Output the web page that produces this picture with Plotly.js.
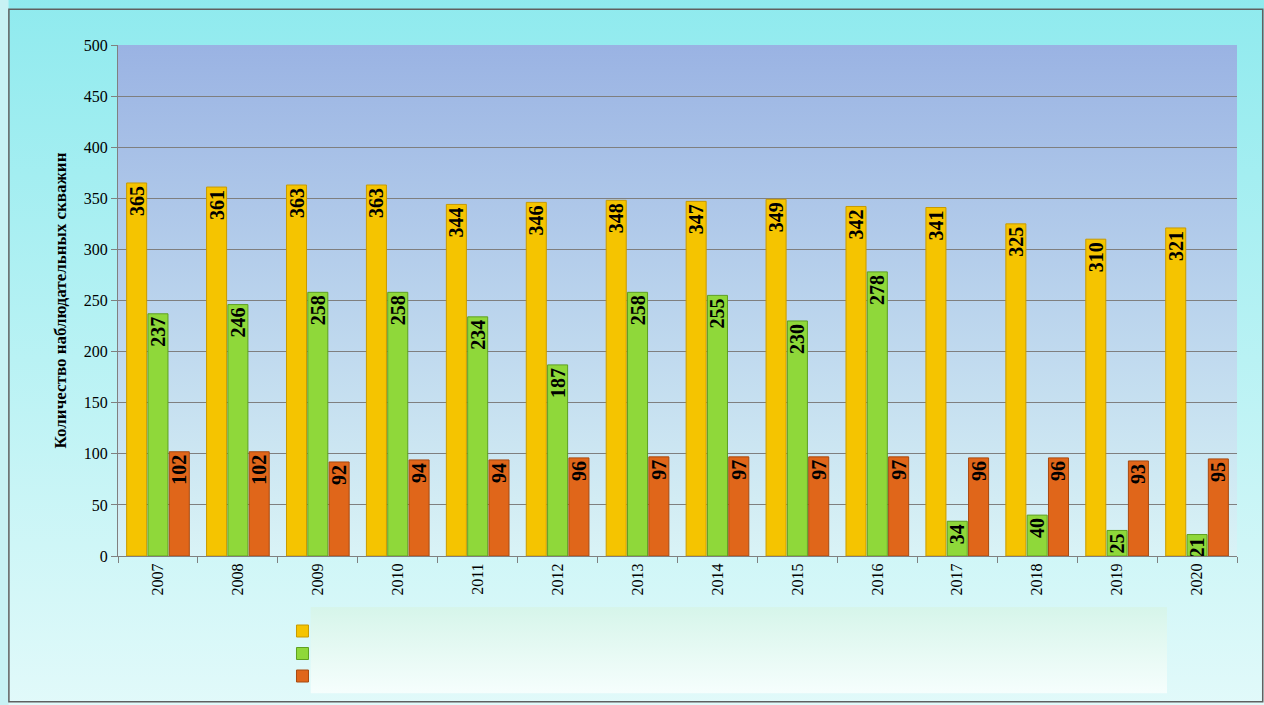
<!DOCTYPE html>
<html><head><meta charset="utf-8">
<script src="https://cdn.plot.ly/plotly-3.0.1.min.js"></script>
<style>body{margin:0}#chart{width:1264px;height:705px}</style>
</head><body><div id="chart"></div>
<script>
// данные по годам
var years = ['2007','2008','2009','2010','2011','2012','2013','2014','2015','2016','2017','2018','2019','2020'];
var serie1 = [365,361,363,363,344,346,348,347,349,342,341,325,310,321];
var serie2 = [237,246,258,258,234,187,258,255,230,278,34,40,25,21];
var serie3 = [102,102,92,94,94,96,97,97,97,97,96,96,93,95];
// подписи легенды скрыты в оригинале
var noms = [' ', ' ', ' '];
var couleurs = ['#f5c400', '#8fd83a', '#e0661a'];
var bords = ['#c89a00', '#5fa020', '#a84a10'];

function svgGrad(c1, c2){
	var s = "<svg xmlns='http://www.w3.org/2000/svg' width='10' height='10' preserveAspectRatio='none'>" +
		"<defs><linearGradient id='g' x1='0' y1='0' x2='0' y2='1'><stop offset='0' stop-color='" + c1 + "'/>" +
		"<stop offset='1' stop-color='" + c2 + "'/></linearGradient></defs><rect width='10' height='10' fill='url(#g)'/></svg>";
	return 'data:image/svg+xml;base64,' + btoa(s);
}

var series = [serie1, serie2, serie3];
var traces = [];
for (var i = 0; i < 3; i++) {
	traces.push({
		x: years, y: series[i], type: 'bar', name: noms[i],
		marker: {color: couleurs[i], line: {color: bords[i], width: 1}},
		text: series[i].map(String), textposition: 'inside', textangle: -90,
		insidetextanchor: 'end', constraintext: 'none',
		textfont: {family: 'Liberation Serif', size: 20, color: '#000', weight: 'bold'},
		cliponaxis: false
	});
}

var layout = {
	width: 1264, height: 705,
	margin: {l: 118, r: 27, t: 45, b: 147},
	barmode: 'group', bargap: 0.2, bargroupgap: 0.06,
	paper_bgcolor: '#c8f2f4', plot_bgcolor: 'rgba(0,0,0,0)',
	font: {family: 'Liberation Serif', size: 16, color: '#000'},
	xaxis: {type: 'category', tickangle: -90, showline: true, linecolor: '#808080', ticks: 'outside', ticklen: 6, tickcolor: '#808080', showgrid: false, tickson: 'boundaries'},
	yaxis: {range: [0, 500], dtick: 50, gridcolor: '#7f7f7f', showline: true, linecolor: '#808080', ticks: 'outside', ticklen: 6, tickcolor: '#808080',
		title: {text: 'Количество наблюдательных скважин', font: {family: 'Liberation Serif', size: 17, weight: 'bold'}, standoff: 12}},
	legend: {x: 0.147, xanchor: 'left', y: -0.115, yanchor: 'top', orientation: 'v', bgcolor: 'rgba(0,0,0,0)', font: {size: 15}, itemwidth: 30},
	images: [
		{source: svgGrad('#8eeaee', '#e4fafa'), xref: 'paper', yref: 'paper', x: -0.098, y: 1.11, sizex: 1.13, sizey: 1.45, xanchor: 'left', yanchor: 'top', sizing: 'stretch', layer: 'below'},
		{source: svgGrad('#9ab3e3', '#d9f3f6'), xref: 'paper', yref: 'paper', x: 0, y: 1, sizex: 1, sizey: 1, xanchor: 'left', yanchor: 'top', sizing: 'stretch', layer: 'below'},
		{source: svgGrad('#d6f5ea', '#f6fefd'), xref: 'paper', yref: 'paper', x: 0.172, y: -0.1, sizex: 0.7655, sizey: 0.169, xanchor: 'left', yanchor: 'top', sizing: 'stretch', layer: 'above'}
	],
	shapes: [
		{type: 'rect', xref: 'paper', yref: 'paper', x0: -0.0975, x1: 1.023, y0: -0.285, y1: 1.07, line: {color: '#606060', width: 1.5}}
	]
};
Plotly.newPlot('chart', traces, layout, {displayModeBar: false});
</script></body></html>
